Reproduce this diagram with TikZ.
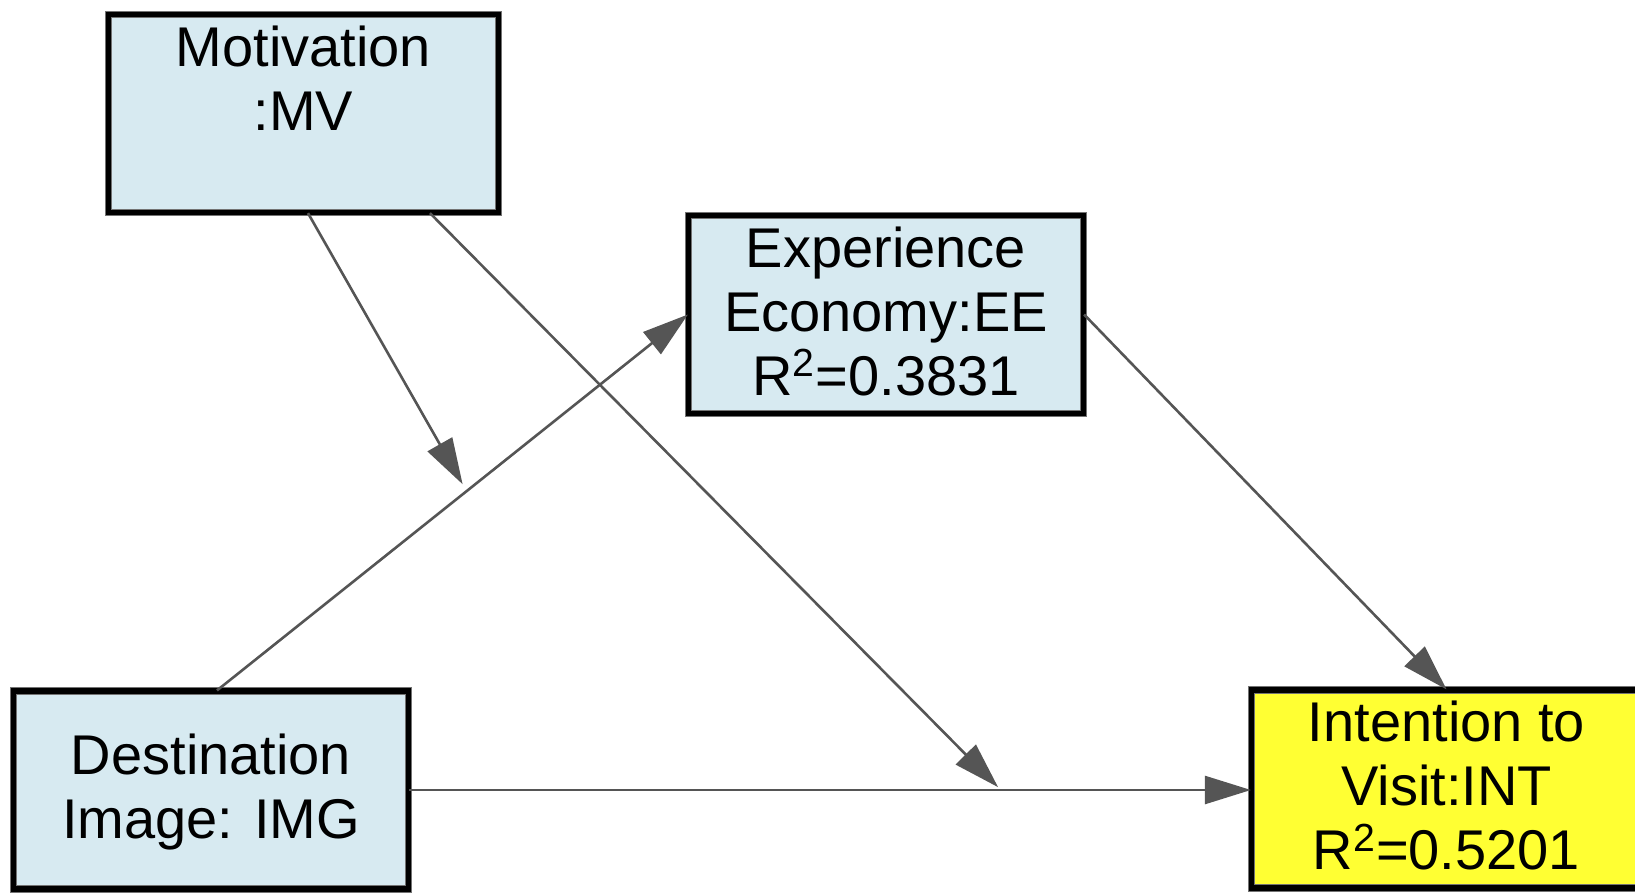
\documentclass[tikz,border=0pt]{standalone}
\usepackage{fontspec}
\setmainfont{Liberation Sans}
\usetikzlibrary{arrows.meta}
\definecolor{boxblue}{RGB}{215,234,241}
\definecolor{boxyellow}{RGB}{255,255,51}
\definecolor{linkgray}{RGB}{85,85,85}
% strut giving every line of a box the same height and depth
\newcommand\boxstrut{\rule[-7.75pt]{0pt}{32pt}}
\begin{document}
\begin{tikzpicture}[x=0.5pt,y=-0.5pt,
  construct/.style={draw=black!55, double=black, double distance=2.6pt, line width=0.6pt,
    fill=boxblue, inner sep=0pt, align=center,
    font=\fontsize{28}{32}\selectfont,
    minimum width=195pt, minimum height=99pt},
  link/.style={draw=linkgray, line width=1.3pt,
    -{Triangle[length=23pt,width=14pt,fill=linkgray]}}]
\clip (0,0) rectangle (1635,894);

% constructs
\node[construct] (MV) at (303.5,113.5)
  {\boxstrut Motivation\\\boxstrut:MV\\\boxstrut};
\node[construct, minimum width=197.5pt] (EE) at (886,314.5)
  {\boxstrut Experience\\\boxstrut Economy:EE\\\boxstrut R\textsuperscript{2}=0.3831};
\node[construct, minimum width=197.5pt] (IMG) at (211,790)
  {\boxstrut Destination\\\boxstrut Image: IMG};
\node[construct, fill=boxyellow] (INT) at (1446.5,789)
  {\boxstrut Intention to\\\boxstrut Visit:INT\\\boxstrut R\textsuperscript{2}=0.5201};

% direct paths
\draw[link] ([xshift=3pt]IMG.north) -- coordinate[pos=0.53] (m1) (EE.west);
\draw[link] (IMG.east) -- coordinate[pos=0.703] (m2) (IMG.east -| INT.west);
\draw[link] (EE.east) -- (INT.north);

% moderating paths
\draw[link, shorten >=4pt] ([xshift=2.25pt]MV.south) -- (m1);
\draw[link, shorten >=2pt] ([xshift=63.25pt]MV.south) -- (m2);
\end{tikzpicture}
\end{document}
